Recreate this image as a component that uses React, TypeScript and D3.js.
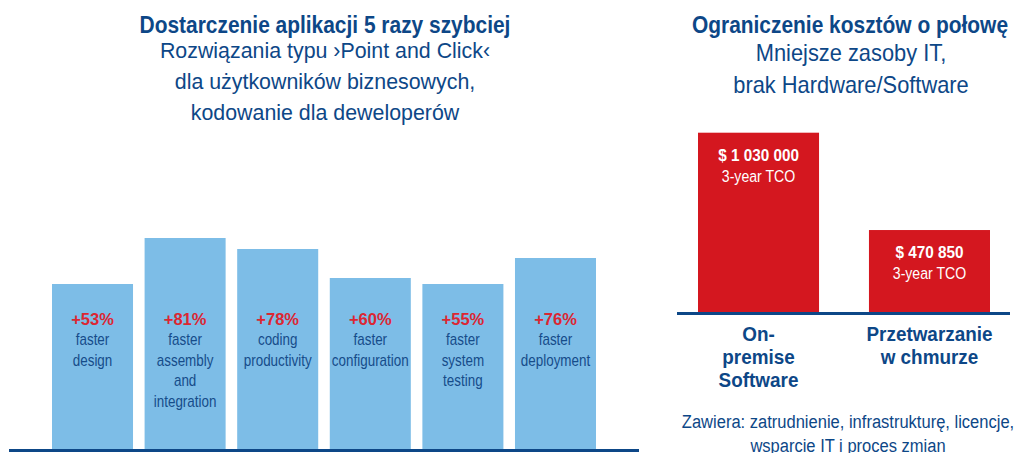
import React from 'react';
import * as d3 from 'd3';

const leftCategories = ['design', 'assembly', 'coding', 'configuration', 'testing', 'deployment'];
const leftPercents = ['+53%', '+81%', '+78%', '+60%', '+55%', '+76%'];
const leftBarLevels = [165, 211, 200, 171, 165, 191];
const leftLabelLines = [
  ['faster', 'design'],
  ['faster', 'assembly', 'and', 'integration'],
  ['coding', 'productivity'],
  ['faster', 'configuration'],
  ['faster', 'system', 'testing'],
  ['faster', 'deployment'],
];

const rightCategories = ['onprem', 'cloud'];
const rightValues = [1030000, 470850];
const rightValueLabels = ['$ 1 030 000', '$ 470 850'];
const rightSubLabel = '3-year TCO';
const rightCategoryLines = [['On-', 'premise', 'Software'], ['Przetwarzanie', 'w chmurze']];

const leftTitle = 'Dostarczenie aplikacji 5 razy szybciej';
const leftSubtitle = ['Rozwiązania typu ›Point and Click‹', 'dla użytkowników biznesowych,', 'kodowanie dla deweloperów'];
const rightTitle = 'Ograniczenie kosztów o połowę';
const rightSubtitle = ['Mniejsze zasoby IT,', 'brak Hardware/Software'];
const footnote = ['Zawiera: zatrudnienie, infrastrukturę, licencje,', 'wsparcie IT i proces zmian'];

const FONT = "'Liberation Sans', Arial, sans-serif";
const DARK = '#0d4787';
const BARTEXT = '#164c8a';
const LIGHT = '#7dbde7';
const RED = '#d4171f';
const PCT = '#dc2632';

type TProps = {
  x: number; y: number; k?: number; size: number; bold?: boolean; fill: string; children: React.ReactNode;
};
function T({ x, y, k = 1, size, bold, fill, children }: TProps) {
  return (
    <text
      transform={`translate(${x},${y}) scale(${k},1)`}
      textAnchor="middle"
      fontSize={size}
      fontWeight={bold ? 'bold' : 'normal'}
      fill={fill}
    >
      {children}
    </text>
  );
}

export default function App() {
  const xL = d3.scaleBand<string>().domain(leftCategories).range([52, 596]).paddingInner(0.125).paddingOuter(0);
  const yL = d3.scaleLinear().domain([0, 211]).range([449, 238]);
  const xR = d3.scaleBand<string>().domain(rightCategories).range([698, 990]).paddingInner(0.292).paddingOuter(0);
  const yR = d3.scaleLinear().domain([0, 1030000]).range([312, 132.7]);

  return (
    <svg width={1017} height={453} style={{ position: 'absolute', left: 0, top: 0 }} fontFamily={FONT}>
      <rect width={1017} height={453} fill="#fff" />
      {/* Left titles */}
      <T x={325} y={33} size={23} k={0.91} bold fill={DARK}>{leftTitle}</T>
      {leftSubtitle.map((s, i) => (
        <T key={i} x={325} y={58 + i * 31} size={23} k={0.93} fill={DARK}>{s}</T>
      ))}
      {/* Left bars */}
      {leftCategories.map((c, i) => {
        const x = xL(c)!;
        const w = xL.bandwidth();
        const cx = x + w / 2;
        return (
          <g key={c}>
            <rect x={x} y={yL(leftBarLevels[i])} width={w} height={yL(0) - yL(leftBarLevels[i])} fill={LIGHT} />
            <T x={cx} y={325} size={16.5} bold fill={PCT}>{leftPercents[i]}</T>
            {leftLabelLines[i].map((l, j) => (
              <T key={j} x={cx} y={345 + j * 20.5} size={16} k={0.84} fill={BARTEXT}>{l}</T>
            ))}
          </g>
        );
      })}
      <rect x={9} y={449} width={630} height={3} fill={DARK} />

      {/* Right titles */}
      <T x={850} y={33} size={23} k={0.91} bold fill={DARK}>{rightTitle}</T>
      {rightSubtitle.map((s, i) => (
        <T key={i} x={851} y={61 + i * 31.5} size={23} k={0.95} fill={DARK}>{s}</T>
      ))}
      {rightCategories.map((c, i) => {
        const x = xR(c)!;
        const w = xR.bandwidth();
        const cx = x + w / 2;
        const top = yR(rightValues[i]);
        return (
          <g key={c}>
            <rect x={x} y={top} width={w} height={yR(0) - top} fill={RED} />
            <T x={cx} y={top + 28} size={17} k={0.9} bold fill="#fff">{rightValueLabels[i]}</T>
            <T x={cx} y={top + 49} size={17} k={0.83} fill="#fff">{rightSubLabel}</T>
            {rightCategoryLines[i].map((l, j) => (
              <T key={j} x={cx} y={341 + j * 23} size={21} k={0.9} bold fill={DARK}>{l}</T>
            ))}
          </g>
        );
      })}
      <rect x={677} y={312} width={333} height={3} fill={DARK} />
      {footnote.map((s, i) => (
        <T key={i} x={848} y={428 + i * 24} size={19} k={0.87} fill={DARK}>{s}</T>
      ))}
    </svg>
  );
}
